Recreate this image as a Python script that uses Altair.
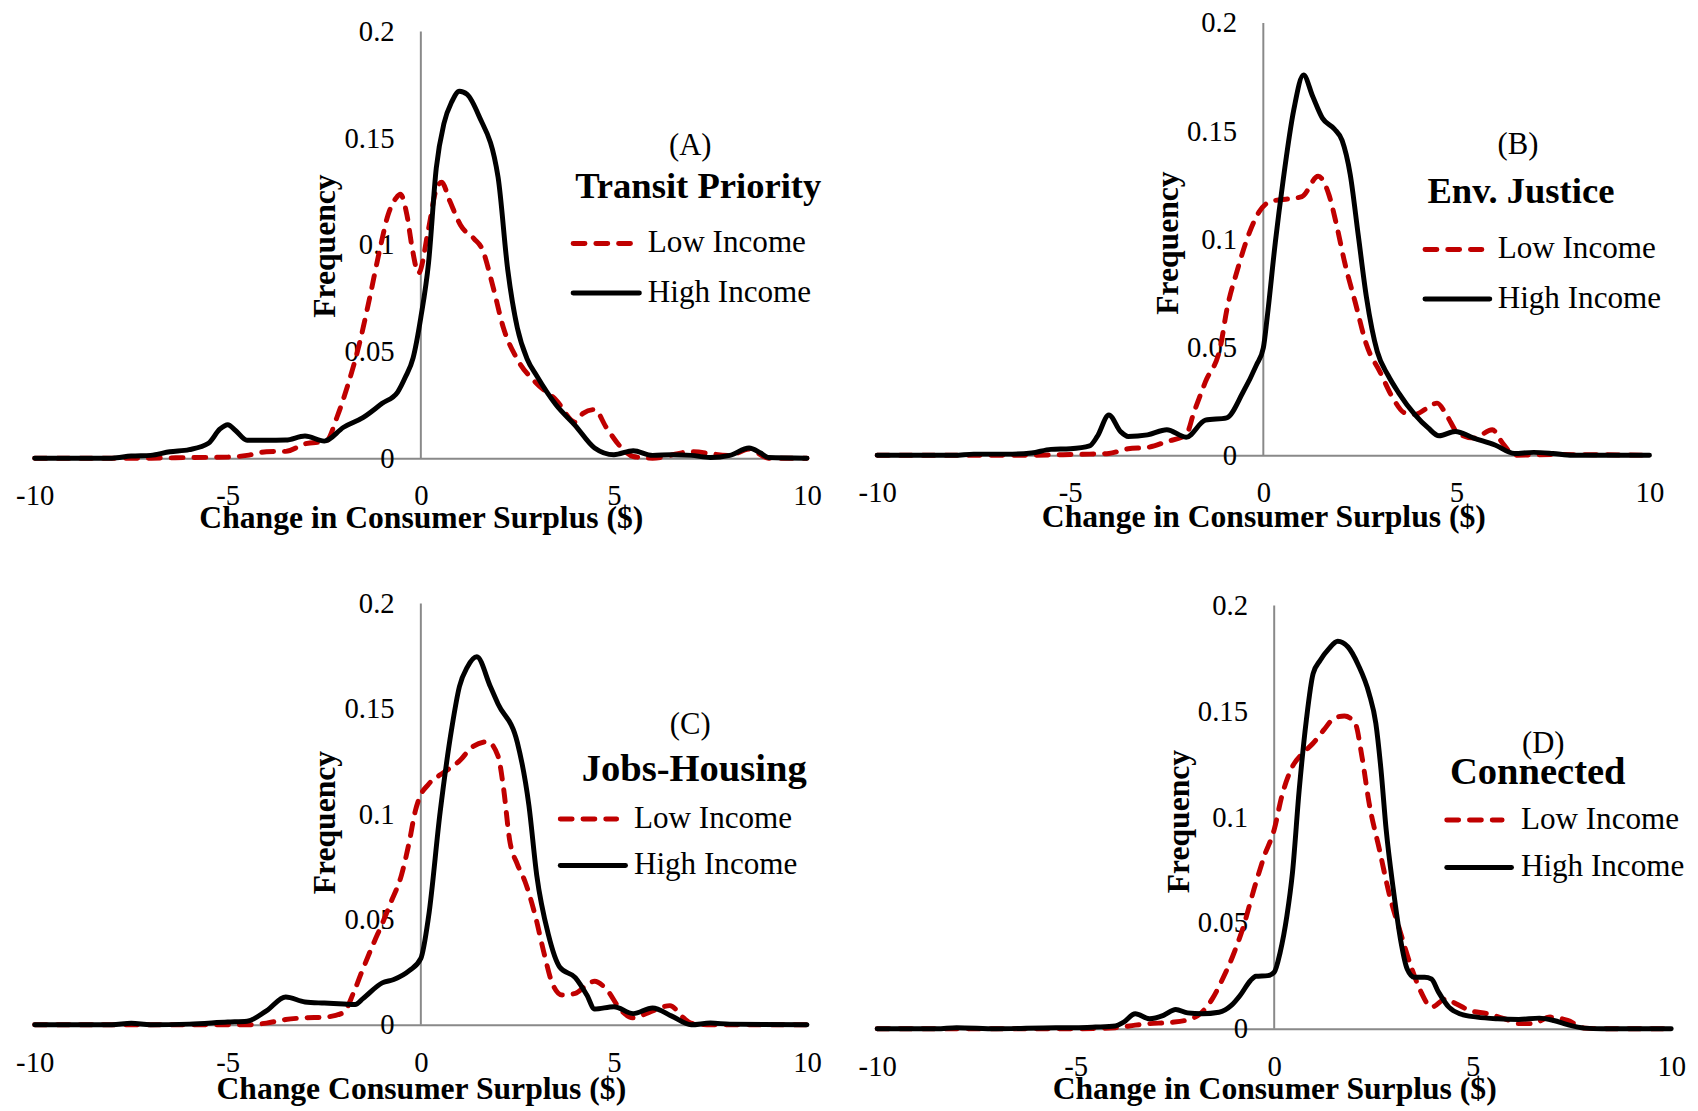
import altair as alt
import pandas as pd

FONT = "Liberation Serif"
RED = "#C00000"
BLACK = "#000000"
GRAY = "#898989"

# ---------------- text / ticks ----------------
x_ticks = [-10, -5, 0, 5, 10]
y_ticks = [0, 0.05, 0.1, 0.15, 0.2]
y_title = "Frequency"
legend_labels = ["Low Income", "High Income"]
panel_letters = ["(A)", "(B)", "(C)", "(D)"]
panel_titles = ["Transit Priority", "Env. Justice", "Jobs-Housing", "Connected"]
x_titles = ["Change in Consumer Surplus ($)", "Change in Consumer Surplus ($)",
            "Change Consumer Surplus ($)", "Change in Consumer Surplus ($)"]

# ---------------- data ----------------
A_low_x = [-10, -8, -7, -6, -5, -4.5, -4, -3.5, -3, -2.45, -2.17, -1.9, -1.6, -1.34, -1.06, -0.85, -0.64, -0.53,
           -0.36, -0.22, -0.06, 0.2, 0.4, 0.54, 0.75, 1.03, 1.38, 1.59, 1.87, 2.14, 2.49, 2.98, 3.5, 4.0, 4.2, 4.5,
           4.8, 5.2, 5.5, 6.0, 7.0, 8.0, 8.5, 9.0, 10]
A_low_y = [0, 0, 0, 0.0003, 0.0005, 0.0013, 0.003, 0.0032, 0.0067, 0.008, 0.0193, 0.0337, 0.053, 0.0739, 0.098,
           0.114, 0.122, 0.1237, 0.114, 0.098, 0.0867, 0.1076, 0.126, 0.1293, 0.1205, 0.1092, 0.1028, 0.098, 0.0803,
           0.061, 0.0466, 0.0353, 0.0273, 0.0169, 0.021, 0.0228, 0.0145, 0.0048, 0.0008, 0, 0.003, 0.0013, 0.0043,
           0, 0]
A_high_x = [-10, -8, -7.5, -7, -6.5, -6, -5.5, -5.2, -5.0, -4.8, -4.5, -4, -3.5, -3, -2.5, -2, -1.5, -1, -0.6,
            -0.4, -0.2, 0, 0.2, 0.4, 0.6, 0.8, 1.0, 1.2, 1.5, 2.0, 2.25, 2.5, 2.75, 3.0, 3.5, 4, 4.5, 5, 5.5, 6,
            6.5, 7, 7.5, 8, 8.5, 8.8, 9, 10]
A_high_y = [0, 0, 0.001, 0.0013, 0.003, 0.004, 0.007, 0.0137, 0.0157, 0.013, 0.0084, 0.0084, 0.0085, 0.0104,
            0.008, 0.0145, 0.019, 0.0257, 0.031, 0.038, 0.047, 0.066, 0.0916, 0.136, 0.157, 0.167, 0.172, 0.1705,
            0.1606, 0.1317, 0.0884, 0.061, 0.0466, 0.0386, 0.025, 0.0153, 0.0048, 0.0016, 0.0035, 0.0013, 0.0016,
            0.0013, 0.0003, 0.0013, 0.0048, 0.0024, 0.0003, 0]

B_low_x = [-10, -6, -5, -4.5, -4, -3.5, -3, -2.5, -2, -1.8, -1.5, -1.1, -0.95, -0.67, -0.39, -0.11, 0.17, 1.0,
           1.42, 1.7, 1.9, 2.11, 2.39, 2.67, 3.02, 3.37, 3.65, 3.93, 4.2, 4.5, 4.76, 5.04, 5.45, 5.93, 6.2, 6.5,
           7.5, 10]
B_low_y = [0, 0, 0.0003, 0.0005, 0.0008, 0.003, 0.0036, 0.0063, 0.0094, 0.0197, 0.0339, 0.0512, 0.0669, 0.0858,
           0.1016, 0.1126, 0.1173, 0.1197, 0.1291, 0.1205, 0.1063, 0.089, 0.0701, 0.0512, 0.0386, 0.026, 0.0197,
           0.0189, 0.0213, 0.0241, 0.0181, 0.0102, 0.0079, 0.0118, 0.0055, 0, 0.0003, 0]
B_high_x = [-10, -8, -7.5, -6.5, -6, -5.5, -5, -4.5, -4.3, -4.0, -3.7, -3.5, -3, -2.5, -2.0, -1.5, -0.95, -0.53,
            -0.18, 0, 0.1, 0.31, 0.51, 0.79, 1.04, 1.28, 1.53, 1.84, 2.04, 2.25, 2.46, 2.67, 2.95, 3.23, 3.5, 3.92,
            4.27, 4.55, 4.97, 5.45, 6.0, 6.5, 7, 7.5, 8, 10]
B_high_y = [0, 0, 0.0005, 0.0005, 0.001, 0.0027, 0.003, 0.0043, 0.0087, 0.0186, 0.011, 0.0087, 0.0094, 0.0118,
            0.0083, 0.0162, 0.0173, 0.029, 0.0417, 0.0496, 0.0638, 0.0984, 0.1268, 0.16, 0.176, 0.166, 0.156, 0.151,
            0.1457, 0.13, 0.1016, 0.0732, 0.048, 0.037, 0.029, 0.0189, 0.0126, 0.009, 0.011, 0.0079, 0.0047,
            0.0008, 0.0013, 0.0008, 0, 0]

C_low_x = [-10, -5, -4.5, -4, -3.5, -3, -2.5, -2.0, -1.75, -1.5, -1.2, -1.0, -0.78, -0.5, -0.29, -0.15, -0.04, 0.2,
           0.61, 1.03, 1.31, 1.72, 2.0, 2.14, 2.3, 2.5, 2.7, 2.97, 3.18, 3.4, 3.66, 4.0, 4.3, 4.5, 4.78, 5.2, 5.48,
           5.9, 6.45, 6.8, 7.0, 7.5, 10]
C_low_y = [0, 0, 0, 0.0008, 0.0025, 0.0033, 0.0036, 0.0058, 0.0149, 0.0265, 0.0397, 0.048, 0.058, 0.0712, 0.0877,
           0.101, 0.1076, 0.1142, 0.12, 0.1258, 0.1316, 0.1344, 0.1275, 0.1126, 0.0877, 0.0762, 0.0679, 0.0513,
           0.0348, 0.0199, 0.0141, 0.0149, 0.019, 0.0207, 0.0174, 0.0066, 0.0033, 0.0058, 0.0091, 0.0033, 0.0008,
           0, 0]
C_high_x = [-10, -8, -7.5, -7, -6, -5, -4.5, -4, -3.5, -3, -2.5, -2, -1.7, -1.5, -1.0, -0.7, -0.3, 0, 0.2, 0.5,
            0.8, 1.0, 1.2, 1.45, 1.8, 2.0, 2.5, 2.8, 3.0, 3.3, 3.6, 4.0, 4.3, 4.5, 5, 5.5, 6.0, 6.5, 7.0, 7.5, 8, 10]
C_high_y = [0, 0, 0.0007, 0, 0.0003, 0.0013, 0.0017, 0.0066, 0.0132, 0.0108, 0.0103, 0.0099, 0.0096, 0.0124,
            0.0199, 0.0215, 0.0257, 0.0315, 0.0513, 0.101, 0.1407, 0.1606, 0.1697, 0.1747, 0.1606, 0.1523, 0.134,
            0.104, 0.0712, 0.043, 0.0273, 0.0224, 0.0141, 0.0075, 0.0086, 0.0053, 0.008, 0.0041, 0, 0.0008, 0.0003,
            0]

D_low_x = [-10, -6, -5, -4, -3.5, -3.14, -2.6, -2.09, -1.82, -1.56, -1.3, -1.04, -0.77, -0.51, -0.25, 0, 0.19,
           0.46, 0.72, 0.98, 1.25, 1.51, 1.77, 2.04, 2.21, 2.39, 2.65, 2.91, 3.18, 3.44, 3.7, 3.96, 4.32, 4.58,
           4.93, 5.37, 5.81, 6.16, 6.51, 6.95, 7.39, 7.82, 8.26, 10]
D_low_y = [0, 0, 0, 0.0005, 0.0017, 0.0024, 0.003, 0.0047, 0.0078, 0.0141, 0.0235, 0.0345, 0.0486, 0.0659,
           0.0816, 0.0941, 0.1098, 0.1239, 0.1302, 0.1349, 0.1412, 0.1467, 0.1478, 0.1443, 0.1286, 0.1067, 0.0847,
           0.0627, 0.0455, 0.0298, 0.0173, 0.0102, 0.0141, 0.0118, 0.0086, 0.0071, 0.0047, 0.0024, 0.0024, 0.0055,
           0.0039, 0.0003, 0, 0]
D_high_x = [-10, -8.5, -8, -7, -5.5, -5, -4.5, -4, -3.8, -3.5, -3.14, -2.79, -2.48, -2.18, -1.82, -1.39, -1.08,
            -0.86, -0.6, -0.46, -0.16, 0, 0.15, 0.32, 0.46, 0.63, 0.81, 0.98, 1.16, 1.38, 1.6, 1.86, 2.12, 2.39,
            2.56, 2.69, 2.82, 3.0, 3.18, 3.35, 3.53, 3.79, 3.96, 4.14, 4.4, 4.67, 5.11, 5.63, 6.16, 6.68, 7.04, 7.39,
            7.82, 8.26, 10]
D_high_y = [0, 0, 0.0005, 0, 0.0005, 0.0005, 0.0008, 0.0013, 0.003, 0.0071, 0.0047, 0.0063, 0.0091, 0.0075,
            0.0071, 0.0078, 0.011, 0.0157, 0.0227, 0.0248, 0.0251, 0.0267, 0.0361, 0.0533, 0.0737, 0.1129, 0.1459,
            0.1678, 0.1741, 0.1796, 0.1831, 0.1804, 0.1718, 0.1584, 0.1443, 0.1224, 0.0941, 0.0659, 0.0424, 0.0282,
            0.0243, 0.0243, 0.0235, 0.0173, 0.0102, 0.0071, 0.0055, 0.0047, 0.0044, 0.005, 0.0039, 0.0019, 0.0003,
            0, 0]

# ---------------- layout (pixels, relative to each plot area) ----------------
layouts = [
    dict(W=781, H=440, ymax=0.2 * 440 / 431.5, ytitle_y=225, xtitle_y=60, letter=(663, 124), title=(671, 166),
         tsize=37, red=(544.5, 602.5, 223), black=(544.5, 611.5, 273), text_x=620),
    dict(W=781, H=437, ymax=0.2, ytitle_y=222, xtitle_y=62, letter=(648, 123), title=(651, 171),
         tsize=37, red=(554, 611.5, 229), black=(554, 619.5, 279), text_x=627.5),
    dict(W=781, H=426, ymax=0.2, ytitle_y=221, xtitle_y=65, letter=(663, 123), title=(667, 167),
         tsize=39, red=(531.5, 588.5, 218), black=(531.5, 597.5, 265), text_x=606),
    dict(W=803, H=430, ymax=0.2 * 430 / 428, ytitle_y=220, xtitle_y=61, letter=(673.6, 142), title=(668, 171),
         tsize=39, red=(576, 632, 219), black=(576, 641.5, 267), text_x=651),
]


def text_layer(label, x, y, size, weight="normal", align="center"):
    return alt.Chart(pd.DataFrame({"t": [label]})).mark_text(
        font=FONT, fontSize=size, fontWeight=weight, color=BLACK, align=align, baseline="middle"
    ).encode(text="t:N", x=alt.value(x), y=alt.value(y))


def panel(i, low_x, low_y, high_x, high_y):
    L = layouts[i]
    W, H = L["W"], L["H"]
    xs = alt.Scale(domain=[-10, 10], nice=False, zero=False)
    ys = alt.Scale(domain=[0, L["ymax"]], nice=False, zero=True)

    x_axis = alt.Axis(values=x_ticks, labelExpr="datum.value + ''", orient="bottom",
                      domain=True, domainColor=GRAY, domainWidth=2, ticks=False, grid=False,
                      labelPadding=38, labelBaseline="middle", labelFlush=False, labelFont=FONT,
                      labelFontSize=29, labelColor=BLACK, title=x_titles[i], titleFont=FONT,
                      titleFontSize=32, titleFontWeight="bold", titleColor=BLACK, titleY=L["xtitle_y"],
                      titleBaseline="middle")
    y_axis = alt.Axis(values=y_ticks, format="~g", orient="left", offset=-W / 2, domain=False,
                      ticks=False, grid=False, labelPadding=27, labelFont=FONT,
                      labelFontSize=29, labelColor=BLACK, title=y_title, titleFont=FONT,
                      titleFontSize=32, titleFontWeight="bold", titleColor=BLACK, titleAngle=270,
                      titleAlign="center", titleBaseline="middle", titleX=-97, titleY=L["ytitle_y"])

    axis_df = pd.DataFrame({"x": [0], "y": [y_ticks[0]], "y2": [y_ticks[-1]]})
    vrule = alt.Chart(axis_df).mark_rule(color=GRAY, strokeWidth=2).encode(
        x=alt.X("x:Q", scale=xs, axis=x_axis),
        y=alt.Y("y:Q", scale=ys, axis=y_axis),
        y2="y2:Q",
    )

    low_df = pd.DataFrame({"x": low_x, "y": low_y})
    high_df = pd.DataFrame({"x": high_x, "y": high_y})
    low_line = alt.Chart(low_df).mark_line(
        color=RED, strokeWidth=5, strokeDash=[12, 11], strokeCap="round", interpolate="monotone"
    ).encode(x=alt.X("x:Q", scale=xs, axis=x_axis), y=alt.Y("y:Q", scale=ys, axis=y_axis))
    high_line = alt.Chart(high_df).mark_line(
        color=BLACK, strokeWidth=5, strokeCap="round", strokeJoin="round", interpolate="monotone"
    ).encode(x=alt.X("x:Q", scale=xs, axis=x_axis), y=alt.Y("y:Q", scale=ys, axis=y_axis))

    rx1, rx2, ry = L["red"]
    bx1, bx2, by = L["black"]
    leg_red = alt.Chart(pd.DataFrame({"t": [legend_labels[0]]})).mark_rule(
        color=RED, strokeWidth=5, strokeDash=[12, 11], strokeCap="round"
    ).encode(x=alt.value(rx1), x2=alt.value(rx2), y=alt.value(ry))
    leg_black = alt.Chart(pd.DataFrame({"t": [legend_labels[1]]})).mark_rule(
        color=BLACK, strokeWidth=5, strokeCap="round"
    ).encode(x=alt.value(bx1), x2=alt.value(bx2), y=alt.value(by))

    layers = [
        vrule, low_line, high_line,
        text_layer(panel_letters[i], L["letter"][0], L["letter"][1], 31),
        text_layer(panel_titles[i], L["title"][0], L["title"][1], L["tsize"], weight="bold"),
        leg_red, leg_black,
        text_layer(legend_labels[0], L["text_x"], ry, 31.5, align="left"),
        text_layer(legend_labels[1], L["text_x"], by, 31.5, align="left"),
    ]
    return alt.layer(*layers).properties(width=W, height=H)


pA = panel(0, A_low_x, A_low_y, A_high_x, A_high_y)
pB = panel(1, B_low_x, B_low_y, B_high_x, B_high_y)
pC = panel(2, C_low_x, C_low_y, C_high_x, C_high_y)
pD = panel(3, D_low_x, D_low_y, D_high_x, D_high_y)

chart = alt.concat(
    pA, pB, pC, pD, columns=2, spacing={"row": 147, "column": 71}, bounds="flush", align="each"
).properties(
    padding={"left": 7, "top": -6, "right": 4, "bottom": 4},
    background="white",
).configure_view(stroke="transparent")

chart.save("out.html", embed_options={"renderer": "svg", "actions": False})
